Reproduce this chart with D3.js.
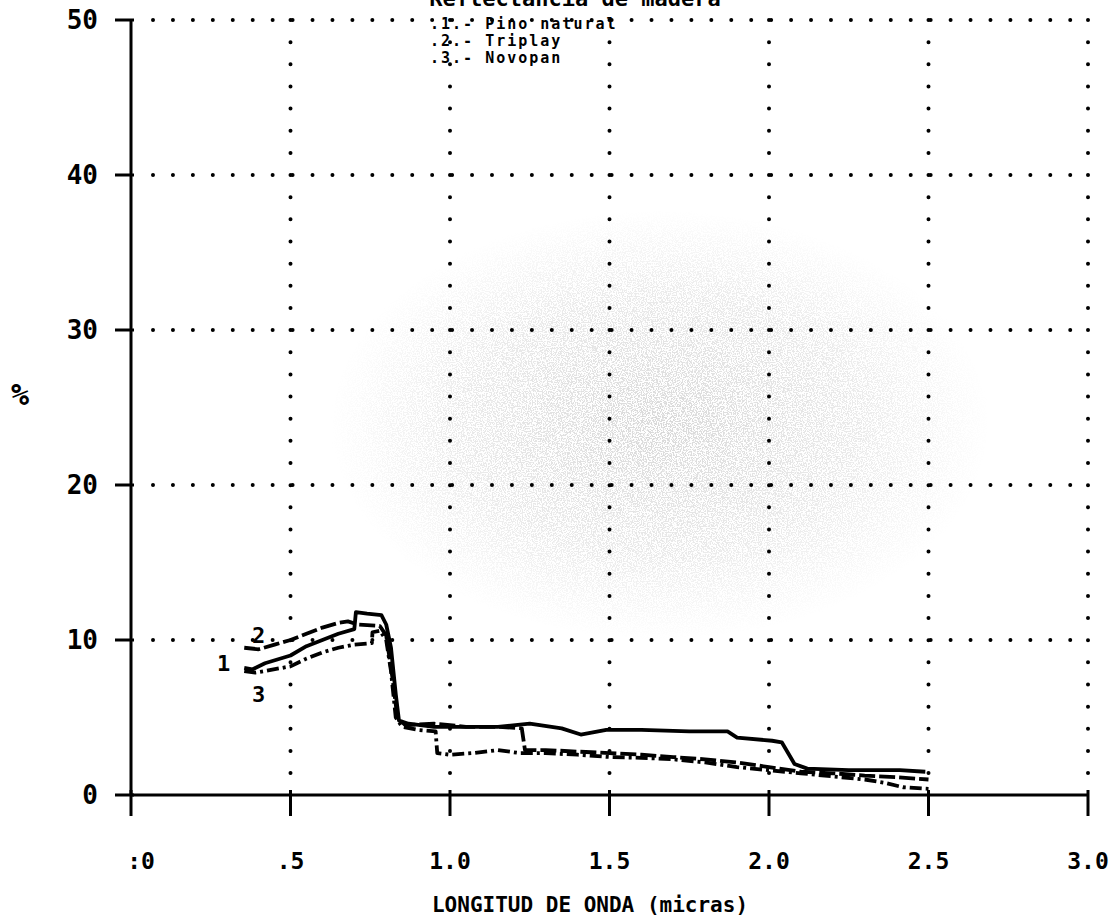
<!DOCTYPE html>
<html><head><meta charset="utf-8">
<script src="https://cdn.jsdelivr.net/npm/d3@7"></script>
<style>
html,body{margin:0;padding:0;background:#fff;}
svg text{font-family:"DejaVu Sans Mono",monospace;font-weight:bold;fill:#000;}
</style></head>
<body>
<svg id="chart" width="1119" height="916"></svg>
<script>
// ---- data ----
const titleText = "Reflectancia de madera";
const xTicks = [0, 0.5, 1.0, 1.5, 2.0, 2.5, 3.0];
const xTickLabels = [":0", ".5", "1.0", "1.5", "2.0", "2.5", "3.0"];
const yTicks = [0, 10, 20, 30, 40, 50];
const yTickLabels = ["0", "10", "20", "30", "40", "50"];
const legendLabels = [".1.- Pino natural", ".2.- Triplay", ".3.- Novopan"];
const curveNames = ["1", "2", "3"];
const xAxisTitle = "LONGITUD DE ONDA (micras)";
const yAxisTitle = "%";

const pinoNatural = [[0.355,8.2],[0.38,8.1],[0.42,8.5],[0.5,9.0],[0.55,9.6],[0.6,10.0],[0.65,10.4],[0.70,10.7],[0.705,11.8],[0.74,11.7],[0.785,11.6],[0.80,11.0],[0.815,9.5],[0.83,6.5],[0.84,4.8],[0.87,4.6],[0.95,4.4],[1.05,4.4],[1.15,4.4],[1.25,4.6],[1.35,4.3],[1.41,3.9],[1.49,4.2],[1.6,4.2],[1.75,4.1],[1.87,4.1],[1.90,3.7],[2.01,3.5],[2.04,3.4],[2.08,2.0],[2.12,1.7],[2.25,1.6],[2.41,1.6],[2.49,1.5]];
const triplay = [[0.355,9.5],[0.40,9.4],[0.45,9.7],[0.5,10.0],[0.55,10.4],[0.6,10.8],[0.65,11.1],[0.68,11.2],[0.71,11.0],[0.78,10.9],[0.80,10.3],[0.82,7.5],[0.835,5.0],[0.86,4.5],[0.95,4.6],[1.05,4.4],[1.15,4.4],[1.225,4.3],[1.235,2.9],[1.3,2.9],[1.4,2.8],[1.5,2.7],[1.6,2.6],[1.7,2.45],[1.8,2.3],[1.9,2.1],[2.0,1.8],[2.1,1.5],[2.2,1.4],[2.3,1.25],[2.4,1.15],[2.5,1.0]];
const novopan = [[0.355,8.0],[0.39,7.9],[0.42,8.0],[0.5,8.3],[0.55,8.8],[0.6,9.2],[0.65,9.5],[0.7,9.7],[0.755,9.8],[0.757,10.5],[0.78,10.6],[0.80,10.0],[0.815,8.0],[0.83,5.0],[0.85,4.4],[0.9,4.2],[0.955,4.1],[0.96,2.7],[1.0,2.6],[1.07,2.7],[1.15,2.9],[1.22,2.7],[1.3,2.7],[1.4,2.6],[1.5,2.45],[1.6,2.4],[1.7,2.3],[1.8,2.1],[1.9,1.8],[2.0,1.6],[2.1,1.4],[2.2,1.2],[2.3,1.0],[2.36,0.8],[2.42,0.5],[2.5,0.4]];

// ---- layout ----
const svg = d3.select("#chart");
const x = d3.scaleLinear().domain([0, 3]).range([131, 1088]);
const y = d3.scaleLinear().domain([0, 50]).range([795, 20]);

// scanner speckle texture
const defs = svg.append("defs");
const flt = defs.append("filter").attr("id","speck").attr("x",0).attr("y",0).attr("width",1).attr("height",1);
flt.append("feTurbulence").attr("type","fractalNoise").attr("baseFrequency",0.8).attr("numOctaves",2).attr("seed",7).attr("result","n");
flt.append("feColorMatrix").attr("in","n").attr("type","matrix")
  .attr("values","0 0 0 0 0.6  0 0 0 0 0.6  0 0 0 0 0.6  0 0 0 -12 6.4");
const rg = defs.append("radialGradient").attr("id","fade");
rg.append("stop").attr("offset","0%").attr("stop-color","#fff").attr("stop-opacity",0.75);
rg.append("stop").attr("offset","60%").attr("stop-color","#fff").attr("stop-opacity",0.4);
rg.append("stop").attr("offset","100%").attr("stop-color","#fff").attr("stop-opacity",0);
const mask = defs.append("mask").attr("id","fmask");
mask.append("ellipse").attr("cx",660).attr("cy",425).attr("rx",330).attr("ry",215).attr("fill","url(#fade)");
svg.append("rect").attr("x",320).attr("y",200).attr("width",700).attr("height",460)
  .attr("filter","url(#speck)").attr("mask","url(#fmask)");

// title (cut off at top, as in the scan)
svg.append("text").attr("x", 575).attr("y", 6).attr("text-anchor","middle")
  .style("font-size","22px").text(titleText);

// dotted grid
const grid = svg.append("g").attr("stroke","#000").attr("stroke-linecap","round").attr("stroke-width",4);
yTicks.filter(v => v > 0).forEach(v => {
  grid.append("line").attr("x1", x(0) + 22).attr("x2", x(3)).attr("y1", y(v)).attr("y2", y(v))
    .attr("stroke-dasharray","0 19.94");
});
xTicks.filter(v => v > 0).forEach(v => {
  grid.append("line").attr("x1", x(v)).attr("x2", x(v)).attr("y1", y(50)).attr("y2", y(0) - 14)
    .attr("stroke-dasharray","0 22.15");
});

// axes
const ax = svg.append("g").attr("stroke","#000").attr("fill","none");
ax.append("line").attr("x1", x(0)).attr("x2", x(0)).attr("y1", y(50)).attr("y2", y(0)).attr("stroke-width",3);
ax.append("line").attr("x1", x(0)).attr("x2", x(3)).attr("y1", y(0)).attr("y2", y(0)).attr("stroke-width",3);
yTicks.forEach(v => ax.append("line").attr("x1", x(0) - 16).attr("x2", x(0) + 3).attr("y1", y(v)).attr("y2", y(v)).attr("stroke-width",3));
xTicks.forEach(v => ax.append("line").attr("x1", x(v)).attr("x2", x(v)).attr("y1", y(0) - 5).attr("y2", y(0) + 21).attr("stroke-width",3));

// tick labels
svg.append("g").selectAll("text").data(yTicks).join("text")
  .attr("x", 98).attr("y", d => y(d)).attr("dy","0.36em").attr("text-anchor","end")
  .style("font-size","26px")
  .text((d,i) => yTickLabels[i]);
svg.append("g").selectAll("text").data(xTicks).join("text")
  .attr("x", d => x(d) + (d === 0 ? 10 : 0)).attr("y", 869).attr("text-anchor","middle")
  .style("font-size","23px")
  .text((d,i) => xTickLabels[i]);

// axis titles
svg.append("text").attr("x", 590).attr("y", 912).attr("text-anchor","middle")
  .style("font-size","21px").text(xAxisTitle);
svg.append("text").attr("x", 20).attr("y", 405).attr("text-anchor","middle")
  .style("font-size","30px").text(yAxisTitle);

// legend
svg.append("g").selectAll("text").data(legendLabels).join("text")
  .attr("x", 430).attr("y", (d,i) => 29 + i * 17).style("font-size","15px")
  .style("letter-spacing","2px")
  .text(d => d);

// curves
const line = d3.line().x(d => x(d[0])).y(d => y(d[1]));
const series = [
  {data: pinoNatural, dash: null},
  {data: triplay, dash: "16 4"},
  {data: novopan, dash: "12 4 3 4"}
];
svg.append("g").selectAll("path").data(series).join("path")
  .attr("d", d => line(d.data)).attr("fill","none").attr("stroke","#000")
  .attr("stroke-width",3.8).attr("stroke-linejoin","round")
  .attr("stroke-dasharray", d => d.dash);

// curve number labels
const labelPos = [[0.29, 8.5], [0.40, 10.3], [0.40, 6.5]];
svg.append("g").selectAll("text").data(curveNames).join("text")
  .attr("x", (d,i) => x(labelPos[i][0])).attr("y", (d,i) => y(labelPos[i][1]))
  .attr("dy","0.36em").attr("text-anchor","middle").style("font-size","22px")
  .text(d => d);
</script>
</body></html>
